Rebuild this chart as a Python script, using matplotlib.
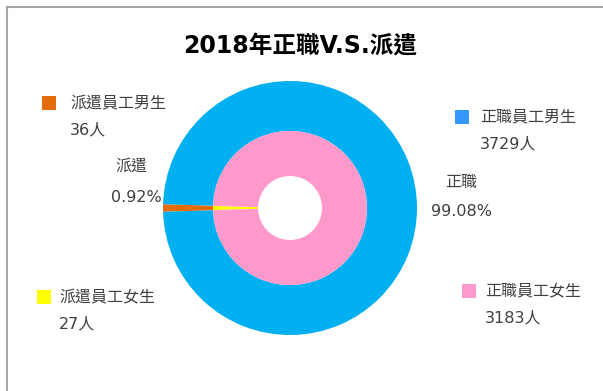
import matplotlib.pyplot as plt

plt.rcParams['font.family'] = ['DejaVu Sans', 'Noto Sans CJK TC']

# 男生 (outer ring) and 女生 (inner ring) head counts
groups = ['派遣', '正職']
male = [36, 3729]
female = [27, 3183]
group_pct = ['0.92%', '99.08%']

legend_names = ['派遣員工男生', '正職員工男生', '派遣員工女生', '正職員工女生']
legend_values = ['36人', '3729人', '27人', '3183人']

outer_colors = ['#E46C0A', '#00B0F0']
inner_colors = ['#FFFF00', '#FF99CC']
legend_colors = ['#E46C0A', '#3399FF', '#FFFF00', '#FF99CC']
text_color = '#404040'

fig = plt.figure(figsize=(6.03, 3.91), dpi=100)
ax = fig.add_axes([0, 0, 1, 1])

cx, cy = 290, 208
r_out, r_mid, r_hole = 127, 77, 32


def start_for(vals):
    # centre the small first wedge on the left side
    return 180 - vals[0] / sum(vals) * 360 / 2


ax.pie(male, radius=r_out, center=(cx, cy), colors=outer_colors,
       startangle=start_for(male), counterclock=True, frame=False,
       wedgeprops=dict(width=r_out - r_mid, linewidth=0))
ax.pie(female, radius=r_mid, center=(cx, cy), colors=inner_colors,
       startangle=start_for(female), counterclock=True, frame=False,
       wedgeprops=dict(width=r_mid - r_hole, linewidth=0))

ax.set_xlim(0, 603)
ax.set_ylim(391, 0)
ax.set_aspect('auto')
ax.axis('off')

# chart frame (top and left edges visible)
ax.plot([6.5, 603], [6.5, 6.5], color='#A6A6A6', lw=1.5, clip_on=False)
ax.plot([6.5, 6.5], [6.5, 391], color='#A6A6A6', lw=1.5, clip_on=False)

ax.text(300, 47, '2018年正職V.S.派遣', ha='center', va='center',
        fontsize=17, fontweight='bold', color='black')

# group data labels
fs = 11.5
ax.text(131, 166, groups[0], ha='center', va='center', fontsize=fs, color=text_color)
ax.text(136, 197, group_pct[0], ha='center', va='center', fontsize=fs, color=text_color)
ax.text(461, 182, groups[1], ha='center', va='center', fontsize=fs, color=text_color)
ax.text(461, 212, group_pct[1], ha='center', va='center', fontsize=fs, color=text_color)

# legend-style callouts: (box x, text x, row y)
spots = [(42, 70, 103), (455, 480, 117), (37, 59, 297), (462, 485, 291)]
for (bx, tx, by), name, val, col in zip(spots, legend_names, legend_values, legend_colors):
    ax.add_patch(plt.Rectangle((bx, by - 7), 14, 14, color=col, lw=0))
    ax.text(tx, by, name, ha='left', va='center', fontsize=fs, color=text_color)
    ax.text(tx, by + 27, val, ha='left', va='center', fontsize=fs, color=text_color)

fig.savefig('out.png', dpi=100, facecolor='white')
